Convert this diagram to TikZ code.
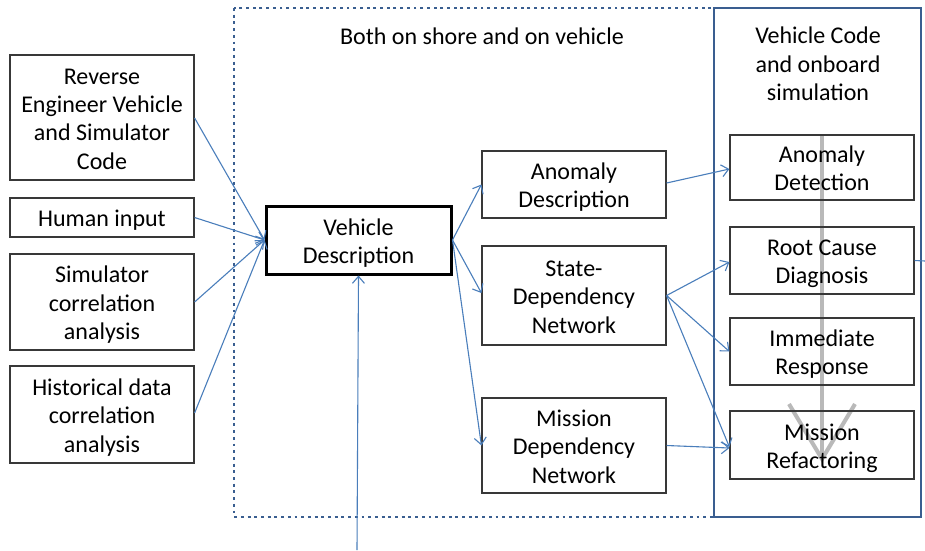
\documentclass[tikz,border=0pt]{standalone}
\usepackage{fontspec}
\setmainfont{Carlito}
\usetikzlibrary{arrows.meta,backgrounds}
\definecolor{flowblue}{HTML}{4A7EBB}
\definecolor{frameblue}{HTML}{3A5E90}
% centred lines, first baseline set a little low as in the boxes' text frames
\newcommand{\bx}[1]{\begin{tabular}{@{}c@{}}\rule{0pt}{27pt}#1\end{tabular}}
\tikzset{
  box/.style={draw=black!78, line width=1.2pt,
    inner sep=0pt, font=\fontsize{24}{28.3}\selectfont},
  flow/.style={draw=flowblue, line width=1.1pt,
    -{Straight Barb[length=7pt,width=12pt,line width=1.1pt]}},
  plain/.style={draw=flowblue, line width=1.1pt},
  caption/.style={align=center, inner sep=0pt, font=\fontsize{24}{28.3}\selectfont},
  seq/.style={draw=gray!55, line width=4pt},
}
\begin{document}
\begin{tikzpicture}[x=1pt, y=-1pt]
\useasboundingbox (0,0) rectangle (925,550);

% frames
\draw[frameblue, line width=2.7pt, dash pattern=on 2.9pt off 3.8pt] (234,8) rectangle (714,517);
\draw[frameblue, line width=2.5pt] (714,8) rectangle (921,517);

% captions
\node[caption] (shore) at (482,36) {Both on shore and on vehicle};
\node[caption] (onboard) at (818,64) {Vehicle Code\\and onboard\\simulation};

% input boxes
\node[box, minimum width=184pt, minimum height=125pt] (rev) at (102,117.5) {\bx{Reverse\\Engineer Vehicle\\and Simulator\\Code}};
\node[box, minimum width=184pt, minimum height=39pt] (hum) at (102,217.5) {\bx{Human input}};
\node[box, minimum width=184pt, minimum height=96pt] (sim) at (102,302) {\bx{Simulator\\correlation\\analysis}};
\node[box, minimum width=184pt, minimum height=97pt] (his) at (102,414.5) {\bx{Historical data\\correlation\\analysis}};

% central description
\node[box, line width=3pt, draw=black, minimum width=185pt, minimum height=68pt] (vd) at (358.5,240) {\bx{Vehicle\\Description}};

% shore/vehicle models
\node[box, minimum width=184pt, minimum height=67pt] (ad) at (574,184.5) {\bx{Anomaly\\Description}};
\node[box, minimum width=184pt, minimum height=99pt] (sdn) at (574,295.5) {\bx{State-\\Dependency\\Network}};
\node[box, minimum width=184pt, minimum height=95pt] (mdn) at (574,445.5) {\bx{Mission\\Dependency\\Network}};

% onboard stages
\node[box, minimum width=184pt, minimum height=65pt] (adet) at (822,167.5) {\bx{Anomaly\\Detection}};
\node[box, minimum width=184pt, minimum height=67pt] (rcd) at (822,260.5) {\bx{Root Cause\\Diagnosis}};
\node[box, minimum width=184pt, minimum height=67pt] (ir) at (822,351.5) {\bx{Immediate\\Response}};
\node[box, minimum width=184pt, minimum height=68pt] (mr) at (822,445) {\bx{Mission\\Refactoring}};

% connectors
\coordinate (vdin) at (vd.west);
\draw[flow] (rev.east |- 0,118) -- (vdin);
\draw[flow] (hum.east) -- (vdin);
\draw[flow] (sim.east) -- (vdin);
\draw[flow] (his.east |- 0,413) -- (vdin);

\coordinate (vdout) at (vd.east);
\draw[flow] (vdout) -- (ad.west);
\draw[flow] (vdout) -- (sdn.west |- 0,293);
\draw[flow] (vdout) -- (mdn.west);

\coordinate (sdnout) at (sdn.east);
\draw[flow] (ad.east |- 0,183) -- (adet.west |- 0,169);
\draw[flow] (sdnout) -- (rcd.west |- 0,262);
\draw[flow] (sdnout) -- (ir.west);
\draw[flow] (sdnout) -- (mr.west |- 0,447);
\draw[flow] (mdn.east) -- (mr.west |- 0,448);

\coordinate (feed) at (357,550);
\draw[flow] (feed) -- (vd.south);

\coordinate (exit) at (925,261);
\draw[plain] (rcd.east) -- (exit);

% white page, then the sequence arrow through the onboard stages,
% both under the box outlines and texts
\begin{pgfonlayer}{background}
\fill[white] (0,0) rectangle (925,550);
\coordinate (seqtop) at (adet.north);
\coordinate (seqtip) at (822,459);
\draw[seq] (seqtop) -- (822,455);
\draw[seq, line join=miter] (789,404) -- (seqtip) -- (855,404);
\end{pgfonlayer}
\end{tikzpicture}
\end{document}
